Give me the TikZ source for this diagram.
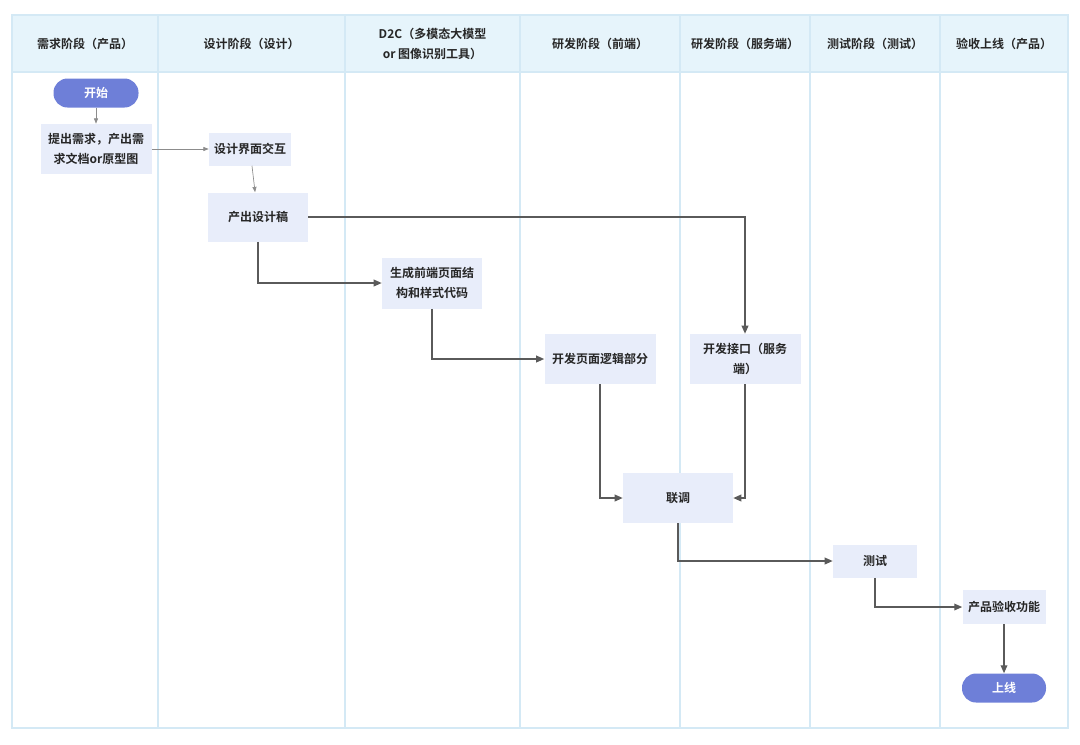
\documentclass[tikz,border=0pt]{standalone}
\usepackage{fontspec}
\setmainfont{Noto Sans CJK SC}[BoldFont={Noto Sans CJK SC Bold}]
\usepackage{xcolor}
\usetikzlibrary{arrows.meta}
\definecolor{lane}{HTML}{D4E9F5}
\definecolor{head}{HTML}{E6F4FB}
\definecolor{box}{HTML}{E8EDFA}
\definecolor{term}{HTML}{6E7FD8}
\definecolor{edge}{HTML}{5A5A5A}
\begin{document}
\begin{tikzpicture}[x=0.75pt, y=-0.75pt,
    stage/.style={fill=box, draw=none, align=center, inner sep=0pt,
      font=\fontsize{9}{15}\selectfont\bfseries, text=black!85},
    endpt/.style={stage, fill=term, text=white, rounded corners=10.5pt},
    thin/.style={draw=black!45, line width=0.5pt, -{Triangle[length=4pt,width=3pt]}},
    flow/.style={draw=edge, line width=1.1pt, -{Triangle[length=6pt,width=5pt]}}]
    \useasboundingbox (0,0) rectangle (1080,744);
    % lanes
    \fill[head] (12,15) rectangle (1068,72);
    \draw[lane, line width=0.8pt] (12,15) rectangle (1068,728);
    \draw[lane, line width=0.8pt] (12,72) -- (1068,72);
    \foreach \x in {158,345,520,680,810,940}{
      \draw[lane, line width=0.8pt] (\x,15) -- (\x,728);
    }
    \foreach \x/\t in {85/需求阶段（产品）, 251.5/设计阶段（设计）, 432.5/{D2C（多模态大模型\\or 图像识别工具）},
      600/研发阶段（前端）, 745/研发阶段（服务端）, 875/测试阶段（测试）, 1004/验收上线（产品）}{
      \node[align=center, font=\fontsize{9}{15}\selectfont\bfseries, text=black!85] at (\x,43.5) {\t};
    }
    % stages
    \node[endpt, minimum width=85*0.75pt, minimum height=29*0.75pt] (start) at (96,93) {开始};
    \node[stage, minimum width=111*0.75pt, minimum height=50*0.75pt] (req) at (96,149) {提出需求，产出需\\求文档or原型图};
    \node[stage, minimum width=82*0.75pt, minimum height=33*0.75pt] (ui) at (250,149) {设计界面交互};
    \node[stage, minimum width=100*0.75pt, minimum height=49*0.75pt] (draft) at (258,217) {产出设计稿};
    \node[stage, minimum width=100*0.75pt, minimum height=51*0.75pt] (gen) at (432,283) {生成前端页面结\\构和样式代码};
    \node[stage, minimum width=111*0.75pt, minimum height=50*0.75pt] (logic) at (600,359) {开发页面逻辑部分};
    \node[stage, minimum width=111*0.75pt, minimum height=50*0.75pt] (api) at (745,359) {开发接口（服务\\端）};
    \node[stage, minimum width=110*0.75pt, minimum height=50*0.75pt] (joint) at (678,498) {联调};
    \node[stage, minimum width=84*0.75pt, minimum height=33*0.75pt] (test) at (875,561) {测试};
    \node[stage, minimum width=83*0.75pt, minimum height=34*0.75pt] (accept) at (1004,607) {产品验收功能};
    \node[endpt, minimum width=84*0.75pt, minimum height=29*0.75pt] (done) at (1004,688) {上线};
    % connectors
    \draw[thin] (start) -- (req);
    \draw[thin] (req) -- (ui);
    \draw[thin] (ui) -- (draft);
    \draw[flow] (draft.south) |- (gen.west);
    \draw[flow] (draft.east) -| (api.north);
    \draw[flow] (gen.south) |- (logic.west);
    \draw[flow] (logic.south) |- (joint.west);
    \draw[flow] (api.south) |- (joint.east);
    \draw[flow] (joint.south) |- (test.west);
    \draw[flow] (test.south) |- (accept.west);
    \draw[flow] (accept) -- (done);
\end{tikzpicture}
\end{document}
